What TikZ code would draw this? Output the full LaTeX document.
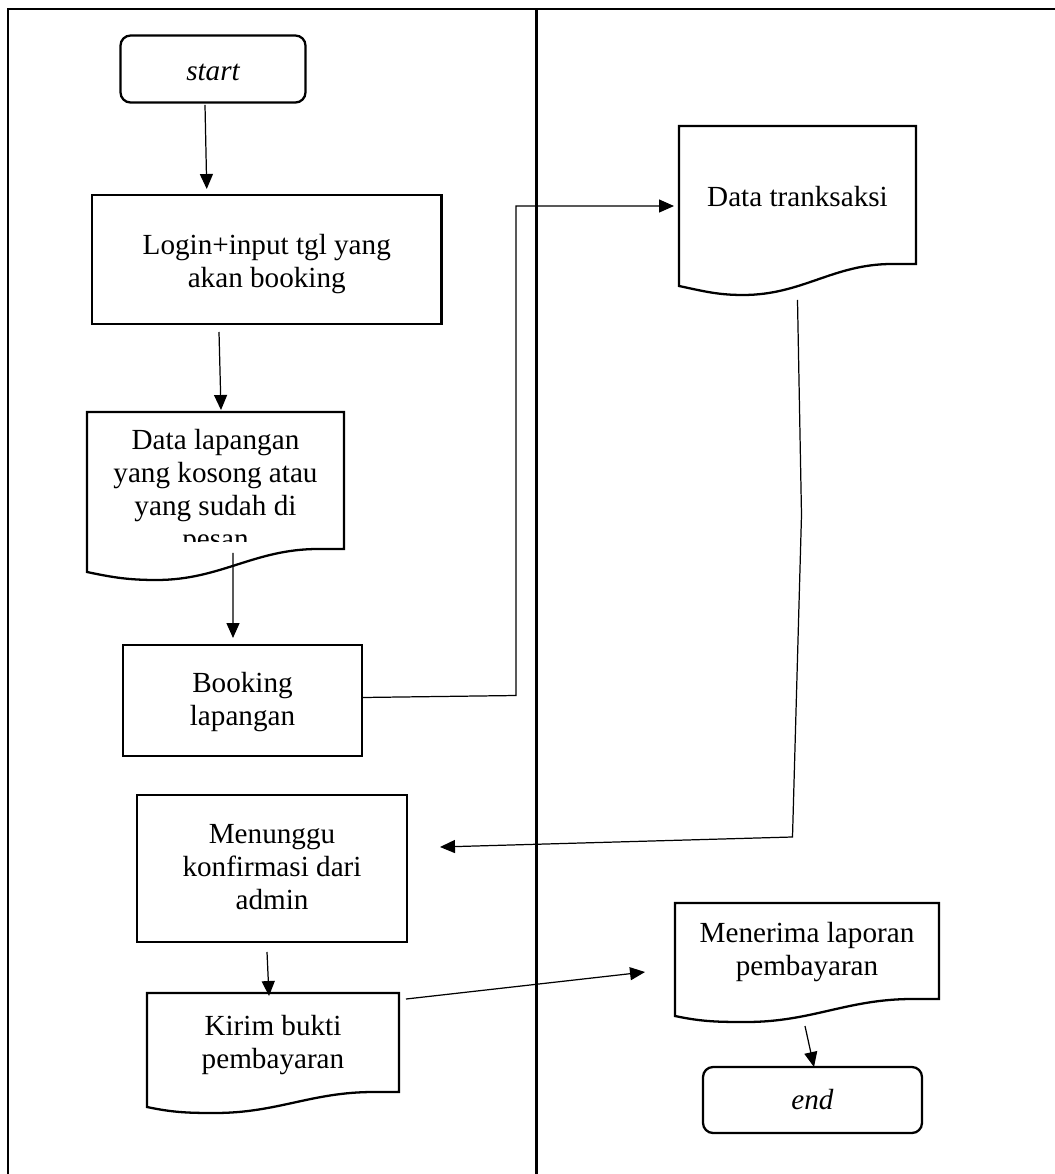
\documentclass[tikz,border=0pt]{standalone}
\usepackage{fontspec}
\setmainfont{Liberation Serif}
\usetikzlibrary{arrows.meta,calc}

% document symbol with a wavy bottom: node, raise of right side, dip of wave
\newcommand\docshape[3]{%
  \draw[line width=1.3pt] ($(#1.south east)+(0,-#2)$)
    -- ($(#1.south west)!0.9!(#1.south east)+(0,-#2)$)
    to[out=180,in=0] ($(#1.south west)!0.27!(#1.south east)+(0,#3)$)
    to[out=180,in=-12] (#1.south west)
    -- (#1.north west) -- (#1.north east) -- cycle;}
% struts to move a text inside its box
\newcommand\tall[1]{\rule{0pt}{#1}}
\newcommand\deep[1]{\rule[-#1]{0pt}{0pt}}

\begin{document}
\begin{tikzpicture}[x=0.02cm, y=-0.02cm, >={Triangle[length=0.3cm,width=0.26cm]},
  every node/.style={inner sep=0pt, outer sep=0pt, align=center, font=\fontsize{16.6pt}{18.8pt}\selectfont},
  box/.style={draw, line width=1.3pt},
  term/.style={box, rounded corners=0.2cm, font=\fontsize{16.6pt}{18.8pt}\selectfont\itshape},
  flow/.style={->, line width=0.7pt}]
\useasboundingbox (0,0) rectangle (1055,1174);

% lanes
\draw[line width=1.15pt] (8,1174) -- (8,9) -- (1055,9);
\draw[line width=1.15pt] (536.5,9) -- (536.5,1174);

% left lane
\node[term, minimum width=3.7cm, minimum height=1.34cm] (start) at (213,69) {\tall{13.6pt}start};
\node[box, minimum width=6.99cm, minimum height=2.58cm] (login) at (266.75,259.5) {\tall{17pt}Login+input tgl yang\\akan booking};
\begin{scope}
\clip (80,405) rectangle (350,541);
\node[minimum width=5.14cm, minimum height=3.2cm] (field) at (215.5,492) {Data lapangan\\yang kosong atau\\yang sudah di\\pesan};
\end{scope}
\docshape{field}{23}{8}
\node[box, minimum width=4.78cm, minimum height=2.22cm] (book) at (242.5,700.5) {\tall{13.6pt}Booking\\lapangan};
\node[box, minimum width=5.4cm, minimum height=2.94cm] (wait) at (272,868.5) {Menunggu\\konfirmasi dari\\admin\deep{2.3pt}};
\node[minimum width=5.04cm, minimum height=2.28cm] (proof) at (273,1050) {Kirim bukti\\pembayaran\deep{9.3pt}};
\docshape{proof}{15}{6}

% right lane
\node[minimum width=4.74cm, minimum height=3.2cm] (trans) at (797.5,206) {Data tranksaksi\deep{11.4pt}};
\docshape{trans}{22}{9}
\node[minimum width=5.28cm, minimum height=2.26cm] (report) at (807,959.5) {Menerima laporan\\pembayaran\deep{11.6pt}};
\docshape{report}{17}{6}
\node[term, minimum width=4.38cm, minimum height=1.32cm] (end) at (812.5,1100) {end};

% connectors
\draw[flow] ($(start.south)+(-8,2.4)$) -- ($(login.north)+(-60,-6)$);
\draw[flow] ($(login.south)+(-47.75,8)$) -- ($(field.north)+(5.5,-2)$);
\draw[flow] ($(field.south)+(17.5,-19)$) -- ($(book.north)+(-9.5,-7)$);
\draw[flow] ($(book.east)+(0,-3)$) -- ++(154,-2) |- ($(trans.west)+(-5,0)$);
\draw[flow] ($(trans.south)+(0,14)$) -- ++(4,215) -- ++(-9,322) -- ($(wait.east)+(33,-21.5)$);
\draw[flow] ($(wait.south)+(-5,10)$) -- ($(proof.north)+(-4,3)$);
\draw[flow] ($(proof.north east)+(7,6)$) -- ($(report.west)+(-30,12.5)$);
\draw[flow] ($(report.south)+(-2,10)$) -- ($(end.north)+(1.5,0)$);
\end{tikzpicture}
\end{document}
